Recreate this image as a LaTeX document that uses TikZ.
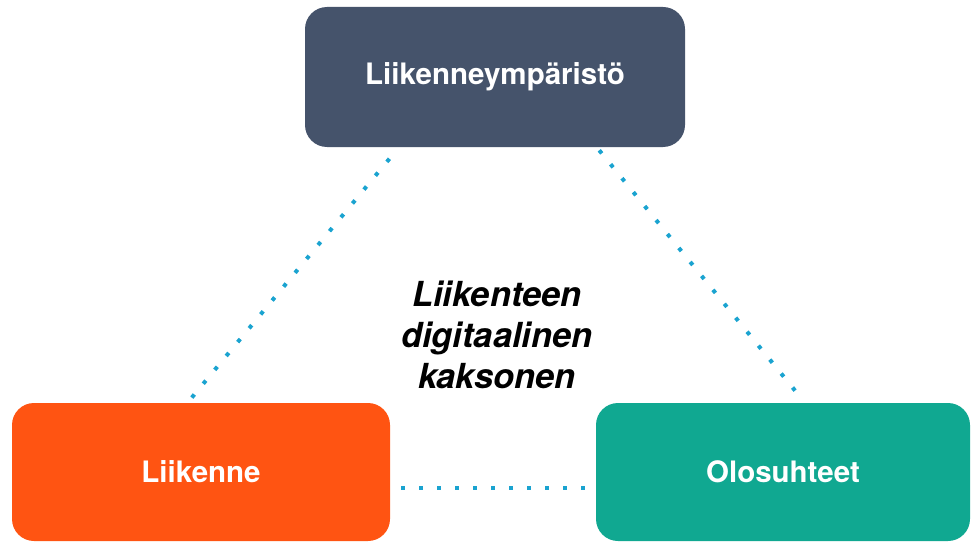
\documentclass[tikz,border=0pt]{standalone}
\usepackage{fontspec}
\setmainfont{TeX Gyre Heros}
\usetikzlibrary{calc}
\definecolor{slate}{HTML}{45536B}
\definecolor{flame}{HTML}{FF5412}
\definecolor{jade}{HTML}{10A891}
\definecolor{sky}{HTML}{1AA3D0}
\tikzset{box/.style={rounded corners=22pt, text=white, font=\bfseries\fontsize{29.5}{34}\selectfont},
  link/.style={draw=sky, line width=4pt, dash pattern=on 4pt off 14pt}}

\begin{document}
\begin{tikzpicture}[x=1pt, y=1pt] % three boxes round a label
\useasboundingbox (0,0) rectangle (971,542);
\node[box, fill=slate, minimum width=380pt, minimum height=140pt] (env) at (495,465) {Liikenneympäristö};
\node[box, fill=flame, minimum width=378pt, minimum height=138pt] (traffic) at (201,70) {Liikenne};
\node[box, fill=jade, minimum width=374pt, minimum height=138pt] (cond) at (783,70) {Olosuhteet};

\node[align=center, font=\bfseries\itshape\fontsize{34.5}{41}\selectfont] (twin) at (497,207) {Liikenteen\\digitaalinen\\kaksonen};

\draw[link, shorten <=15pt, shorten >=3pt] ($(env.south)+(-96,0)$) -- ($(traffic.north)+(-13.5,0)$);
\draw[link, shorten <=4pt, shorten >=7pt] ($(env.south)+(101.7,0)$) -- ($(cond.north)+(22,0)$);
\draw[link, shorten <=11pt, shorten >=2pt] ($(traffic.east)+(0,-16)$) -- ($(cond.west)+(0,-16)$);
\end{tikzpicture}
\end{document}
